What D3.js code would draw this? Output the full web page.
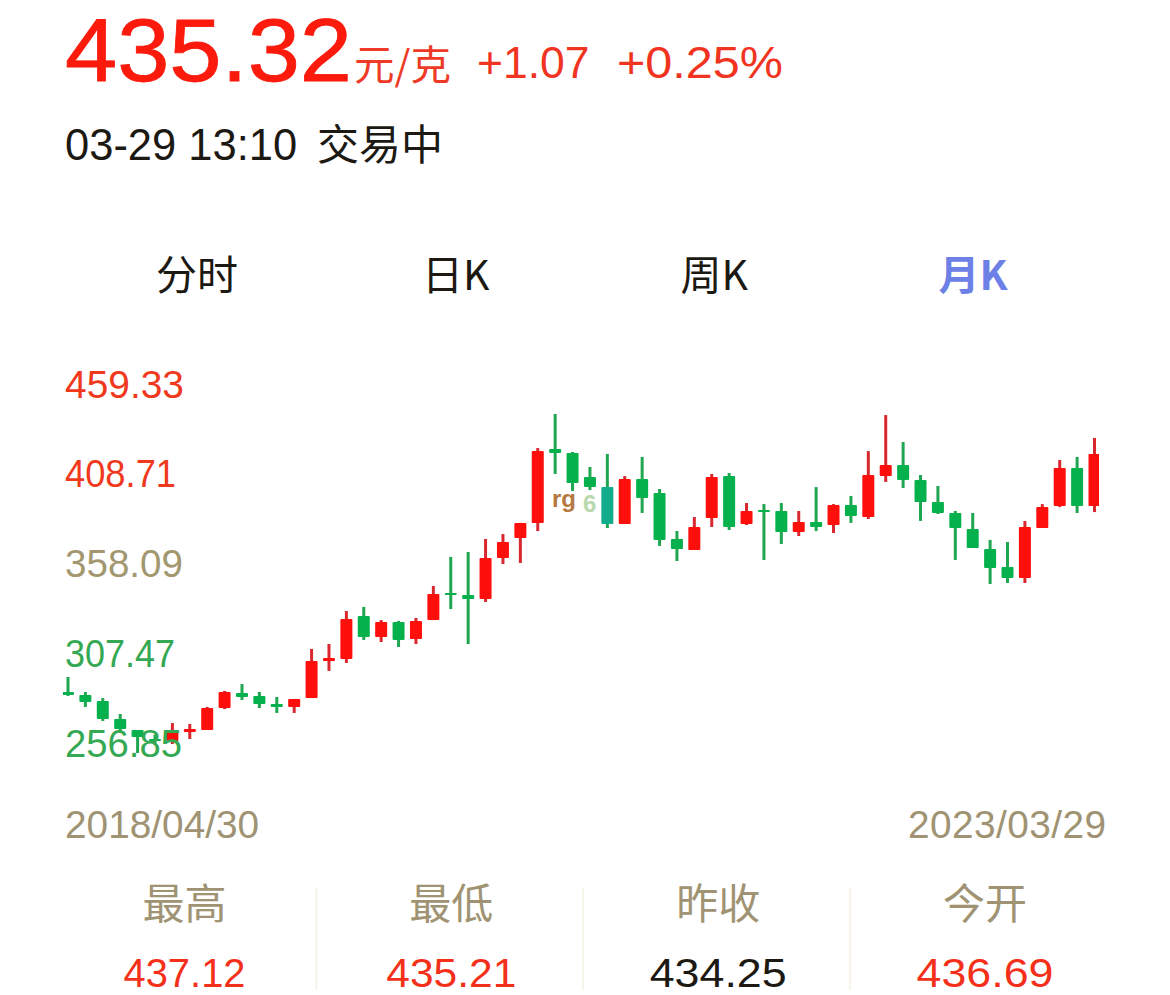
<!DOCTYPE html>
<html>
<head>
<meta charset="utf-8">
<script src="https://cdn.jsdelivr.net/npm/d3@7"></script>
<style>
  html, body { margin: 0; padding: 0; background: #fff; }
  svg { display: block; }
  text { font-family: "Liberation Sans", "Noto Sans CJK SC", sans-serif; }
  .cjk { font-family: "Noto Sans CJK SC", sans-serif; }
</style>
</head>
<body>
<svg id="chart" width="1170" height="995"></svg>
<script>
// monthly candles, 2018/04 .. 2023/03
const months = [
  "2018/04","2018/05","2018/06","2018/07","2018/08","2018/09","2018/10","2018/11","2018/12",
  "2019/01","2019/02","2019/03","2019/04","2019/05","2019/06","2019/07","2019/08","2019/09","2019/10","2019/11","2019/12",
  "2020/01","2020/02","2020/03","2020/04","2020/05","2020/06","2020/07","2020/08","2020/09","2020/10","2020/11","2020/12",
  "2021/01","2021/02","2021/03","2021/04","2021/05","2021/06","2021/07","2021/08","2021/09","2021/10","2021/11","2021/12",
  "2022/01","2022/02","2022/03","2022/04","2022/05","2022/06","2022/07","2022/08","2022/09","2022/10","2022/11","2022/12",
  "2023/01","2023/02","2023/03"
];
const opens = [
  285.6,283.9,280.6,270.4,264.2,259.1,258.0,263.1,264.2,276.6,
  285.0,283.4,278.9,277.2,282.2,303.1,304.2,328.5,316.6,325.1,
  315.5,326.2,341.4,340.3,338.1,361.2,372.5,381.0,422.7,420.4,
  406.9,401.2,380.4,405.8,397.9,371.9,365.7,383.8,407.4,380.4,
  388.3,387.7,375.9,381.5,379.8,391.1,384.3,407.4,413.6,405.2,
  392.8,386.6,377.6,366.3,356.1,349.9,378.1,390.5,412.0,390.5
];
const closes = [
  283.9,280.0,270.4,264.7,260.3,258.0,263.1,264.7,276.6,285.6,
  282.8,278.9,277.2,281.7,303.1,304.8,326.8,316.6,325.1,315.0,
  325.7,340.9,340.3,338.1,361.2,370.2,381.0,421.5,420.4,403.5,
  401.2,380.4,405.8,395.0,371.4,366.3,378.7,406.9,378.7,387.7,
  387.7,375.9,381.5,378.7,391.1,384.9,408.0,413.6,405.2,392.8,
  386.6,378.1,366.8,355.6,349.9,378.7,389.9,412.0,390.5,419.9
];
const highs = [
  294.1,285.6,282.2,273.2,264.2,261.4,268.1,267.6,277.2,286.2,
  290.1,285.6,282.8,281.7,309.9,312.7,331.3,333.6,326.2,325.7,
  327.4,345.4,361.8,364.6,371.9,374.7,381.0,423.2,442.4,421.0,
  412.5,419.9,407.4,418.2,400.1,376.4,384.3,408.6,409.1,392.2,
  391.6,392.2,387.7,401.2,391.6,396.2,421.5,441.8,426.6,408.0,
  401.8,387.7,386.6,371.4,370.2,382.1,391.6,416.5,418.2,428.9
];
const lows = [
  283.4,277.2,269.3,263.1,251.2,255.7,256.3,259.1,264.2,276.0,
  281.1,276.6,273.8,273.8,282.2,297.5,302.0,315.0,313.8,311.0,
  312.7,326.2,332.4,312.7,336.4,357.8,358.4,376.4,408.6,399.0,
  399.5,378.1,380.4,386.6,368.0,359.5,365.7,378.7,377.0,379.8,
  360.1,369.1,373.6,376.4,375.3,381.0,383.2,404.1,400.7,382.1,
  386.0,360.1,366.8,346.5,347.1,347.1,378.1,389.9,386.6,387.1
];

const yTicks = [459.33, 408.71, 358.09, 307.47, 256.85];
const yTickColors = ["#f0391c", "#f0391c", "#a39770", "#35a853", "#35a853"];
const yTickWidths = [119, 111, 118, 110, 117];
const tabs = ["分时", "日K", "周K", "月K"];
const statNames = ["最高", "最低", "昨收", "今开"];
const statValues = ["437.12", "435.21", "434.25", "436.69"];
const statColors = ["#f5301a", "#f5301a", "#1c1913", "#f5301a"];
const statWidths = [122, 130, 137, 137];

const RED = "#fe0f0b", GREEN = "#05b14c", TAN = "#a09373", INK = "#1c1913";
const svg = d3.select("#chart");

function label(x, y, str, size, fill, anchor, cls) {
  return svg.append("text")
    .attr("x", x).attr("y", y)
    .attr("font-size", size)
    .attr("fill", fill)
    .attr("text-anchor", anchor || "start")
    .attr("class", cls || null)
    .text(str);
}

// header
label(65, 81, "435.32", 89, "#fb1a0c")
  .attr("textLength", 287).attr("lengthAdjust", "spacingAndGlyphs")
  .attr("stroke", "#fb1a0c").attr("stroke-width", 0.8);
label(354, 80, "元/克", 40.5, "#ee3a26", "start", "cjk");
label(477, 78, "+1.07", 44.5, "#f0341f");
label(617, 78, "+0.25%", 44.5, "#f0341f")
  .attr("textLength", 166).attr("lengthAdjust", "spacingAndGlyphs");
label(65, 160, "03-29 13:10", 43.5, INK);
label(317, 160, "交易中", 42, INK, "start", "cjk");

// tabs
const xTab = d3.scalePoint().domain(tabs).range([197, 973]);
tabs.forEach((t, i) => {
  const on = i === tabs.length - 1;
  label(xTab(t), 290, t, 41, on ? "#6d80e6" : INK, "middle", "cjk")
    .attr("font-weight", on ? 700 : 400);
});

// scales
const x = d3.scalePoint().domain(months).range([68, 1094.5]);
const y = d3.scaleLinear().domain([yTicks[4], yTicks[0]]).range([743, 384]);
const bodyW = 12;

svg.append("clipPath").attr("id", "plot").append("rect")
  .attr("x", 63).attr("y", 380).attr("width", 1036).attr("height", 400);

const rows = d3.range(months.length);
const isUp = i => closes[i] >= opens[i];
const plot = svg.append("g").attr("clip-path", "url(#plot)");

// wicks
plot.selectAll("line.wick").data(rows).join("line")
  .attr("class", "wick")
  .attr("x1", i => x(months[i])).attr("x2", i => x(months[i]))
  .attr("y1", i => y(highs[i])).attr("y2", i => y(lows[i]))
  .attr("stroke", i => isUp(i) ? "#d8272f" : "#1fa650")
  .attr("stroke-width", 3);

// bodies
plot.selectAll("rect.body").data(rows).join("rect")
  .attr("class", "body")
  .attr("x", i => x(months[i]) - bodyW / 2)
  .attr("width", bodyW)
  .attr("y", i => y(Math.max(opens[i], closes[i])))
  .attr("height", i => Math.max(2, Math.abs(y(opens[i]) - y(closes[i]))))
  .attr("rx", 1)
  .attr("fill", i => i === 31 ? "#12ab8c" : (isUp(i) ? RED : GREEN));

// the stray glyphs that sit over the candles in the source screenshot
label(552, 507, "rg", 24, "#b5793f").attr("font-weight", 700);
label(583, 512, "6", 24, "#b9d8ae").attr("font-weight", 700);

// y axis labels
const yAxis = d3.axisLeft(y).tickValues(yTicks).tickSize(0).tickFormat(d3.format(".2f"));
const yG = svg.append("g").attr("transform", "translate(65,0)").call(yAxis);
yG.select(".domain").remove();
yG.selectAll("text")
  .attr("x", 0).attr("dy", 13)
  .attr("text-anchor", "start")
  .attr("font-size", 39)
  .attr("font-family", "Liberation Sans")
  .attr("textLength", (d, i) => yTickWidths[i])
  .attr("lengthAdjust", "spacingAndGlyphs")
  .attr("fill", (d, i) => yTickColors[i]);

// date range
label(65, 838, "2018/04/30", 38.8, TAN);
label(1106, 838, "2023/03/29", 38.8, TAN, "end").attr("textLength", 198);

// stats row
const xStat = d3.scalePoint().domain(statNames).range([184.5, 985]);
statNames.forEach((n, i) => {
  label(xStat(n), 919, n, 42, TAN, "middle", "cjk");
  label(xStat(n), 987, statValues[i], 40, statColors[i], "middle")
    .attr("textLength", statWidths[i])
    .attr("lengthAdjust", "spacingAndGlyphs");
  if (i > 0) {
    const sx = (xStat(statNames[i - 1]) + xStat(n)) / 2 - 1.5;
    svg.append("line")
      .attr("x1", sx).attr("x2", sx).attr("y1", 888).attr("y2", 990)
      .attr("stroke", "#f6f1e6").attr("stroke-width", 1.5);
  }
});
</script>
</body>
</html>
